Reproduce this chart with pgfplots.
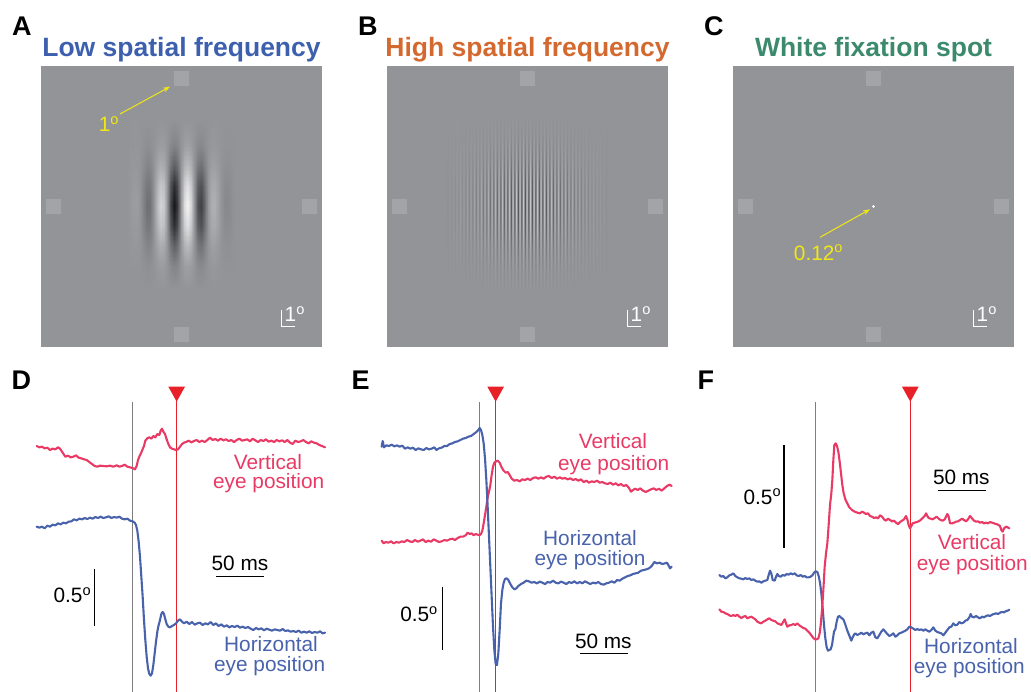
\documentclass[border=0pt]{standalone}
\usepackage{fontspec}
\setmainfont{Liberation Sans}
\usepackage{pgfplots}
\pgfplotsset{compat=1.18}
\usepgfplotslibrary{patchplots}
\usetikzlibrary{arrows.meta}

\definecolor{tblue}{RGB}{61,96,174}
\definecolor{torange}{RGB}{212,105,47}
\definecolor{tgreen}{RGB}{60,138,110}
\definecolor{tpink}{RGB}{232,58,100}
\definecolor{tblu}{RGB}{72,98,172}
\definecolor{tred}{RGB}{232,32,40}
\definecolor{tgray}{RGB}{125,125,125}
\definecolor{bg}{RGB}{147,148,152}
\definecolor{mk}{RGB}{163,164,167}
\definecolor{yel}{RGB}{240,232,20}

\newcommand\lab{\fontsize{20.8bp}{24bp}\selectfont}
\newcommand\ttl{\fontsize{26.5bp}{30bp}\selectfont\bfseries}
\newcommand\plet{\fontsize{27bp}{30bp}\selectfont\bfseries}

\pgfplotsset{
  toppanel/.style={scale only axis, width=281bp, height=281bp, hide axis, clip=false,
    xmin=-140.5, xmax=140.5, ymin=-140.5, ymax=140.5, anchor=north west},
  gaborpanel/.style={scale only axis, width=281bp, height=281bp, hide axis, view={0}{90},
    zmin=-1, zmax=1, anchor=north west, ymin=-140.5, ymax=140.5,
    colormap={gab}{rgb255(0cm)=(12,12,14); rgb255(1cm)=(147,148,152); rgb255(2cm)=(252,252,252)},
    point meta min=-1, point meta max=1},
  botpanel/.style={scale only axis, height=332bp, hide axis, clip=false,
    ymin=0, ymax=996, y dir=reverse, xmin=0, anchor=north west},
  trace/.style={line width=2.1bp, line join=round, line cap=round},
}

\begin{document}
\begin{tikzpicture}
\useasboundingbox (0,0) rectangle (1031bp,-692bp);

% ---------------- top row : stimulus backgrounds ----------------
\foreach \px in {41,387,733}{
\begin{axis}[toppanel, at={(\px bp,-66bp)}]
  \addplot[fill=bg, draw=none] coordinates {(-140.5,-140.5) (140.5,-140.5) (140.5,140.5) (-140.5,140.5)} --cycle;
\end{axis}
}

% Gabor A: x in eighth periods (3.375 px), y in px
\begin{axis}[gaborpanel, at={(41bp,-66bp)}, xmin=-41.6296, xmax=41.6296]
\addplot3[surf, shader=interp, patch type=bilinear, mesh/cols=33, point meta=z] coordinates {
(-16,-85,0) (-15,-85,0) (-14,-85,0) (-13,-85,0) (-12,-85,0) (-11,-85,0) (-10,-85,0) (-9,-85,0) (-8,-85,0) (-7,-85,0) (-6,-85,0) (-5,-85,0) (-4,-85,0) (-3,-85,0) (-2,-85,0) (-1,-85,0) (0,-85,0) (1,-85,0) (2,-85,0) (3,-85,0) (4,-85,0) (5,-85,0) (6,-85,0) (7,-85,0) (8,-85,0) (9,-85,0) (10,-85,0) (11,-85,0) (12,-85,0) (13,-85,0) (14,-85,0) (15,-85,0) (16,-85,0)
(-16,-60,0) (-15,-60,0.01) (-14,-60,0.01) (-13,-60,0.01) (-12,-60,0) (-11,-60,-0.02) (-10,-60,-0.04) (-9,-60,-0.03) (-8,-60,0) (-7,-60,0.05) (-6,-60,0.08) (-5,-60,0.07) (-4,-60,0) (-3,-60,-0.08) (-2,-60,-0.12) (-1,-60,-0.09) (0,-60,0) (1,-60,0.09) (2,-60,0.12) (3,-60,0.08) (4,-60,0) (5,-60,-0.07) (6,-60,-0.08) (7,-60,-0.05) (8,-60,0) (9,-60,0.03) (10,-60,0.04) (11,-60,0.02) (12,-60,0) (13,-60,-0.01) (14,-60,-0.01) (15,-60,-0.01) (16,-60,0)
(-16,-40,0) (-15,-40,0.02) (-14,-40,0.03) (-13,-40,0.03) (-12,-40,0) (-11,-40,-0.06) (-10,-40,-0.11) (-9,-40,-0.10) (-8,-40,0) (-7,-40,0.15) (-6,-40,0.25) (-5,-40,0.20) (-4,-40,0) (-3,-40,-0.25) (-2,-40,-0.38) (-1,-40,-0.28) (0,-40,0) (1,-40,0.28) (2,-40,0.38) (3,-40,0.25) (4,-40,0) (5,-40,-0.20) (6,-40,-0.25) (7,-40,-0.15) (8,-40,0) (9,-40,0.10) (10,-40,0.11) (11,-40,0.06) (12,-40,0) (13,-40,-0.03) (14,-40,-0.03) (15,-40,-0.02) (16,-40,0)
(-16,-20,0) (-15,-20,0.03) (-14,-20,0.06) (-13,-20,0.06) (-12,-20,0) (-11,-20,-0.12) (-10,-20,-0.21) (-9,-20,-0.19) (-8,-20,0) (-7,-20,0.29) (-6,-20,0.49) (-5,-20,0.40) (-4,-20,0) (-3,-20,-0.49) (-2,-20,-0.74) (-1,-20,-0.54) (0,-20,0) (1,-20,0.54) (2,-20,0.74) (3,-20,0.49) (4,-20,0) (5,-20,-0.40) (6,-20,-0.49) (7,-20,-0.29) (8,-20,0) (9,-20,0.19) (10,-20,0.21) (11,-20,0.12) (12,-20,0) (13,-20,-0.06) (14,-20,-0.06) (15,-20,-0.03) (16,-20,0)
(-16,0,0) (-15,0,0.04) (-14,0,0.08) (-13,0,0.08) (-12,0,0) (-11,0,-0.14) (-10,0,-0.27) (-9,0,-0.24) (-8,0,0) (-7,0,0.36) (-6,0,0.61) (-5,0,0.50) (-4,0,0) (-3,0,-0.61) (-2,0,-0.92) (-1,0,-0.68) (0,0,0) (1,0,0.68) (2,0,0.92) (3,0,0.61) (4,0,0) (5,0,-0.50) (6,0,-0.61) (7,0,-0.36) (8,0,0) (9,0,0.24) (10,0,0.27) (11,0,0.14) (12,0,0) (13,0,-0.08) (14,0,-0.08) (15,0,-0.04) (16,0,0)
(-16,20,0) (-15,20,0.03) (-14,20,0.06) (-13,20,0.06) (-12,20,0) (-11,20,-0.12) (-10,20,-0.21) (-9,20,-0.19) (-8,20,0) (-7,20,0.29) (-6,20,0.49) (-5,20,0.40) (-4,20,0) (-3,20,-0.49) (-2,20,-0.74) (-1,20,-0.54) (0,20,0) (1,20,0.54) (2,20,0.74) (3,20,0.49) (4,20,0) (5,20,-0.40) (6,20,-0.49) (7,20,-0.29) (8,20,0) (9,20,0.19) (10,20,0.21) (11,20,0.12) (12,20,0) (13,20,-0.06) (14,20,-0.06) (15,20,-0.03) (16,20,0)
(-16,40,0) (-15,40,0.02) (-14,40,0.03) (-13,40,0.03) (-12,40,0) (-11,40,-0.06) (-10,40,-0.11) (-9,40,-0.10) (-8,40,0) (-7,40,0.15) (-6,40,0.25) (-5,40,0.20) (-4,40,0) (-3,40,-0.25) (-2,40,-0.38) (-1,40,-0.28) (0,40,0) (1,40,0.28) (2,40,0.38) (3,40,0.25) (4,40,0) (5,40,-0.20) (6,40,-0.25) (7,40,-0.15) (8,40,0) (9,40,0.10) (10,40,0.11) (11,40,0.06) (12,40,0) (13,40,-0.03) (14,40,-0.03) (15,40,-0.02) (16,40,0)
(-16,60,0) (-15,60,0.01) (-14,60,0.01) (-13,60,0.01) (-12,60,0) (-11,60,-0.02) (-10,60,-0.04) (-9,60,-0.03) (-8,60,0) (-7,60,0.05) (-6,60,0.08) (-5,60,0.07) (-4,60,0) (-3,60,-0.08) (-2,60,-0.12) (-1,60,-0.09) (0,60,0) (1,60,0.09) (2,60,0.12) (3,60,0.08) (4,60,0) (5,60,-0.07) (6,60,-0.08) (7,60,-0.05) (8,60,0) (9,60,0.03) (10,60,0.04) (11,60,0.02) (12,60,0) (13,60,-0.01) (14,60,-0.01) (15,60,-0.01) (16,60,0)
(-16,85,0) (-15,85,0) (-14,85,0) (-13,85,0) (-12,85,0) (-11,85,0) (-10,85,0) (-9,85,0) (-8,85,0) (-7,85,0) (-6,85,0) (-5,85,0) (-4,85,0) (-3,85,0) (-2,85,0) (-1,85,0) (0,85,0) (1,85,0) (2,85,0) (3,85,0) (4,85,0) (5,85,0) (6,85,0) (7,85,0) (8,85,0) (9,85,0) (10,85,0) (11,85,0) (12,85,0) (13,85,0) (14,85,0) (15,85,0) (16,85,0)
};
\end{axis}

% Gabor B: x in half periods (1.75 px), y in px
\begin{axis}[gaborpanel, at={(387bp,-66bp)}, xmin=-80.2857, xmax=80.2857]
\addplot3[surf, shader=interp, patch type=bilinear, mesh/cols=93, point meta=z] coordinates {
(-46,-88,0) (-45,-88,0) (-44,-88,0) (-43,-88,0) (-42,-88,0) (-41,-88,0) (-40,-88,0) (-39,-88,0) (-38,-88,0) (-37,-88,0) (-36,-88,0) (-35,-88,0) (-34,-88,0) (-33,-88,0) (-32,-88,0) (-31,-88,0) (-30,-88,0) (-29,-88,0) (-28,-88,0) (-27,-88,0) (-26,-88,0) (-25,-88,0) (-24,-88,0) (-23,-88,0) (-22,-88,0) (-21,-88,0) (-20,-88,0) (-19,-88,0) (-18,-88,0) (-17,-88,0) (-16,-88,0) (-15,-88,0) (-14,-88,0) (-13,-88,0) (-12,-88,0) (-11,-88,0) (-10,-88,0) (-9,-88,0) (-8,-88,0) (-7,-88,0) (-6,-88,0) (-5,-88,0) (-4,-88,0) (-3,-88,0) (-2,-88,0) (-1,-88,0) (0,-88,0) (1,-88,0) (2,-88,0) (3,-88,0) (4,-88,0) (5,-88,0) (6,-88,0) (7,-88,0) (8,-88,0) (9,-88,0) (10,-88,0) (11,-88,0) (12,-88,0) (13,-88,0) (14,-88,0) (15,-88,0) (16,-88,0) (17,-88,0) (18,-88,0) (19,-88,0) (20,-88,0) (21,-88,0) (22,-88,0) (23,-88,0) (24,-88,0) (25,-88,0) (26,-88,0) (27,-88,0) (28,-88,0) (29,-88,0) (30,-88,0) (31,-88,0) (32,-88,0) (33,-88,0) (34,-88,0) (35,-88,0) (36,-88,0) (37,-88,0) (38,-88,0) (39,-88,0) (40,-88,0) (41,-88,0) (42,-88,0) (43,-88,0) (44,-88,0) (45,-88,0) (46,-88,0)
(-46,-66,0) (-45,-66,-0.01) (-44,-66,0.01) (-43,-66,-0.01) (-42,-66,0.01) (-41,-66,-0.01) (-40,-66,0.01) (-39,-66,-0.01) (-38,-66,0.01) (-37,-66,-0.01) (-36,-66,0.01) (-35,-66,-0.02) (-34,-66,0.02) (-33,-66,-0.02) (-32,-66,0.02) (-31,-66,-0.02) (-30,-66,0.02) (-29,-66,-0.03) (-28,-66,0.03) (-27,-66,-0.03) (-26,-66,0.03) (-25,-66,-0.04) (-24,-66,0.04) (-23,-66,-0.04) (-22,-66,0.04) (-21,-66,-0.05) (-20,-66,0.05) (-19,-66,-0.05) (-18,-66,0.06) (-17,-66,-0.06) (-16,-66,0.06) (-15,-66,-0.06) (-14,-66,0.07) (-13,-66,-0.07) (-12,-66,0.07) (-11,-66,-0.07) (-10,-66,0.08) (-9,-66,-0.08) (-8,-66,0.08) (-7,-66,-0.08) (-6,-66,0.08) (-5,-66,-0.09) (-4,-66,0.09) (-3,-66,-0.09) (-2,-66,0.09) (-1,-66,-0.09) (0,-66,0.09) (1,-66,-0.09) (2,-66,0.09) (3,-66,-0.09) (4,-66,0.09) (5,-66,-0.09) (6,-66,0.08) (7,-66,-0.08) (8,-66,0.08) (9,-66,-0.08) (10,-66,0.08) (11,-66,-0.07) (12,-66,0.07) (13,-66,-0.07) (14,-66,0.07) (15,-66,-0.06) (16,-66,0.06) (17,-66,-0.06) (18,-66,0.06) (19,-66,-0.05) (20,-66,0.05) (21,-66,-0.05) (22,-66,0.04) (23,-66,-0.04) (24,-66,0.04) (25,-66,-0.04) (26,-66,0.03) (27,-66,-0.03) (28,-66,0.03) (29,-66,-0.03) (30,-66,0.02) (31,-66,-0.02) (32,-66,0.02) (33,-66,-0.02) (34,-66,0.02) (35,-66,-0.02) (36,-66,0.01) (37,-66,-0.01) (38,-66,0.01) (39,-66,-0.01) (40,-66,0.01) (41,-66,-0.01) (42,-66,0.01) (43,-66,-0.01) (44,-66,0.01) (45,-66,-0.01) (46,-66,0)
(-46,-44,0) (-45,-44,-0.02) (-44,-44,0.02) (-43,-44,-0.02) (-42,-44,0.02) (-41,-44,-0.02) (-40,-44,0.03) (-39,-44,-0.03) (-38,-44,0.04) (-37,-44,-0.04) (-36,-44,0.04) (-35,-44,-0.05) (-34,-44,0.05) (-33,-44,-0.06) (-32,-44,0.06) (-31,-44,-0.07) (-30,-44,0.07) (-29,-44,-0.08) (-28,-44,0.09) (-27,-44,-0.09) (-26,-44,0.10) (-25,-44,-0.11) (-24,-44,0.12) (-23,-44,-0.13) (-22,-44,0.14) (-21,-44,-0.14) (-20,-44,0.15) (-19,-44,-0.16) (-18,-44,0.17) (-17,-44,-0.18) (-16,-44,0.18) (-15,-44,-0.19) (-14,-44,0.20) (-13,-44,-0.21) (-12,-44,0.22) (-11,-44,-0.23) (-10,-44,0.23) (-9,-44,-0.24) (-8,-44,0.24) (-7,-44,-0.25) (-6,-44,0.25) (-5,-44,-0.26) (-4,-44,0.26) (-3,-44,-0.26) (-2,-44,0.27) (-1,-44,-0.27) (0,-44,0.27) (1,-44,-0.27) (2,-44,0.27) (3,-44,-0.26) (4,-44,0.26) (5,-44,-0.26) (6,-44,0.25) (7,-44,-0.25) (8,-44,0.24) (9,-44,-0.24) (10,-44,0.23) (11,-44,-0.23) (12,-44,0.22) (13,-44,-0.21) (14,-44,0.20) (15,-44,-0.19) (16,-44,0.18) (17,-44,-0.18) (18,-44,0.17) (19,-44,-0.16) (20,-44,0.15) (21,-44,-0.14) (22,-44,0.14) (23,-44,-0.13) (24,-44,0.12) (25,-44,-0.11) (26,-44,0.10) (27,-44,-0.09) (28,-44,0.09) (29,-44,-0.08) (30,-44,0.07) (31,-44,-0.07) (32,-44,0.06) (33,-44,-0.06) (34,-44,0.05) (35,-44,-0.05) (36,-44,0.04) (37,-44,-0.04) (38,-44,0.04) (39,-44,-0.03) (40,-44,0.03) (41,-44,-0.02) (42,-44,0.02) (43,-44,-0.02) (44,-44,0.02) (45,-44,-0.02) (46,-44,0)
(-46,-22,0) (-45,-22,-0.03) (-44,-22,0.03) (-43,-22,-0.04) (-42,-22,0.04) (-41,-22,-0.05) (-40,-22,0.06) (-39,-22,-0.06) (-38,-22,0.07) (-37,-22,-0.07) (-36,-22,0.08) (-35,-22,-0.10) (-34,-22,0.10) (-33,-22,-0.11) (-32,-22,0.12) (-31,-22,-0.14) (-30,-22,0.14) (-29,-22,-0.16) (-28,-22,0.18) (-27,-22,-0.18) (-26,-22,0.20) (-25,-22,-0.22) (-24,-22,0.23) (-23,-22,-0.25) (-22,-22,0.26) (-21,-22,-0.28) (-20,-22,0.30) (-19,-22,-0.31) (-18,-22,0.33) (-17,-22,-0.34) (-16,-22,0.36) (-15,-22,-0.38) (-14,-22,0.39) (-13,-22,-0.41) (-12,-22,0.42) (-11,-22,-0.44) (-10,-22,0.45) (-9,-22,-0.46) (-8,-22,0.47) (-7,-22,-0.48) (-6,-22,0.50) (-5,-22,-0.50) (-4,-22,0.51) (-3,-22,-0.51) (-2,-22,0.52) (-1,-22,-0.52) (0,-22,0.52) (1,-22,-0.52) (2,-22,0.52) (3,-22,-0.51) (4,-22,0.51) (5,-22,-0.50) (6,-22,0.50) (7,-22,-0.48) (8,-22,0.47) (9,-22,-0.46) (10,-22,0.45) (11,-22,-0.44) (12,-22,0.42) (13,-22,-0.41) (14,-22,0.39) (15,-22,-0.38) (16,-22,0.36) (17,-22,-0.34) (18,-22,0.33) (19,-22,-0.31) (20,-22,0.30) (21,-22,-0.28) (22,-22,0.26) (23,-22,-0.25) (24,-22,0.23) (25,-22,-0.22) (26,-22,0.20) (27,-22,-0.18) (28,-22,0.18) (29,-22,-0.16) (30,-22,0.14) (31,-22,-0.14) (32,-22,0.12) (33,-22,-0.11) (34,-22,0.10) (35,-22,-0.10) (36,-22,0.08) (37,-22,-0.07) (38,-22,0.07) (39,-22,-0.06) (40,-22,0.06) (41,-22,-0.05) (42,-22,0.04) (43,-22,-0.04) (44,-22,0.03) (45,-22,-0.03) (46,-22,0)
(-46,0,0) (-45,0,-0.04) (-44,0,0.04) (-43,0,-0.05) (-42,0,0.05) (-41,0,-0.06) (-40,0,0.07) (-39,0,-0.08) (-38,0,0.09) (-37,0,-0.09) (-36,0,0.10) (-35,0,-0.12) (-34,0,0.13) (-33,0,-0.14) (-32,0,0.15) (-31,0,-0.17) (-30,0,0.18) (-29,0,-0.20) (-28,0,0.22) (-27,0,-0.23) (-26,0,0.25) (-25,0,-0.27) (-24,0,0.29) (-23,0,-0.31) (-22,0,0.33) (-21,0,-0.35) (-20,0,0.37) (-19,0,-0.39) (-18,0,0.41) (-17,0,-0.43) (-16,0,0.45) (-15,0,-0.47) (-14,0,0.49) (-13,0,-0.51) (-12,0,0.53) (-11,0,-0.55) (-10,0,0.56) (-9,0,-0.58) (-8,0,0.59) (-7,0,-0.60) (-6,0,0.62) (-5,0,-0.63) (-4,0,0.64) (-3,0,-0.64) (-2,0,0.65) (-1,0,-0.65) (0,0,0.65) (1,0,-0.65) (2,0,0.65) (3,0,-0.64) (4,0,0.64) (5,0,-0.63) (6,0,0.62) (7,0,-0.60) (8,0,0.59) (9,0,-0.58) (10,0,0.56) (11,0,-0.55) (12,0,0.53) (13,0,-0.51) (14,0,0.49) (15,0,-0.47) (16,0,0.45) (17,0,-0.43) (18,0,0.41) (19,0,-0.39) (20,0,0.37) (21,0,-0.35) (22,0,0.33) (23,0,-0.31) (24,0,0.29) (25,0,-0.27) (26,0,0.25) (27,0,-0.23) (28,0,0.22) (29,0,-0.20) (30,0,0.18) (31,0,-0.17) (32,0,0.15) (33,0,-0.14) (34,0,0.13) (35,0,-0.12) (36,0,0.10) (37,0,-0.09) (38,0,0.09) (39,0,-0.08) (40,0,0.07) (41,0,-0.06) (42,0,0.05) (43,0,-0.05) (44,0,0.04) (45,0,-0.04) (46,0,0)
(-46,22,0) (-45,22,-0.03) (-44,22,0.03) (-43,22,-0.04) (-42,22,0.04) (-41,22,-0.05) (-40,22,0.06) (-39,22,-0.06) (-38,22,0.07) (-37,22,-0.07) (-36,22,0.08) (-35,22,-0.10) (-34,22,0.10) (-33,22,-0.11) (-32,22,0.12) (-31,22,-0.14) (-30,22,0.14) (-29,22,-0.16) (-28,22,0.18) (-27,22,-0.18) (-26,22,0.20) (-25,22,-0.22) (-24,22,0.23) (-23,22,-0.25) (-22,22,0.26) (-21,22,-0.28) (-20,22,0.30) (-19,22,-0.31) (-18,22,0.33) (-17,22,-0.34) (-16,22,0.36) (-15,22,-0.38) (-14,22,0.39) (-13,22,-0.41) (-12,22,0.42) (-11,22,-0.44) (-10,22,0.45) (-9,22,-0.46) (-8,22,0.47) (-7,22,-0.48) (-6,22,0.50) (-5,22,-0.50) (-4,22,0.51) (-3,22,-0.51) (-2,22,0.52) (-1,22,-0.52) (0,22,0.52) (1,22,-0.52) (2,22,0.52) (3,22,-0.51) (4,22,0.51) (5,22,-0.50) (6,22,0.50) (7,22,-0.48) (8,22,0.47) (9,22,-0.46) (10,22,0.45) (11,22,-0.44) (12,22,0.42) (13,22,-0.41) (14,22,0.39) (15,22,-0.38) (16,22,0.36) (17,22,-0.34) (18,22,0.33) (19,22,-0.31) (20,22,0.30) (21,22,-0.28) (22,22,0.26) (23,22,-0.25) (24,22,0.23) (25,22,-0.22) (26,22,0.20) (27,22,-0.18) (28,22,0.18) (29,22,-0.16) (30,22,0.14) (31,22,-0.14) (32,22,0.12) (33,22,-0.11) (34,22,0.10) (35,22,-0.10) (36,22,0.08) (37,22,-0.07) (38,22,0.07) (39,22,-0.06) (40,22,0.06) (41,22,-0.05) (42,22,0.04) (43,22,-0.04) (44,22,0.03) (45,22,-0.03) (46,22,0)
(-46,44,0) (-45,44,-0.02) (-44,44,0.02) (-43,44,-0.02) (-42,44,0.02) (-41,44,-0.02) (-40,44,0.03) (-39,44,-0.03) (-38,44,0.04) (-37,44,-0.04) (-36,44,0.04) (-35,44,-0.05) (-34,44,0.05) (-33,44,-0.06) (-32,44,0.06) (-31,44,-0.07) (-30,44,0.07) (-29,44,-0.08) (-28,44,0.09) (-27,44,-0.09) (-26,44,0.10) (-25,44,-0.11) (-24,44,0.12) (-23,44,-0.13) (-22,44,0.14) (-21,44,-0.14) (-20,44,0.15) (-19,44,-0.16) (-18,44,0.17) (-17,44,-0.18) (-16,44,0.18) (-15,44,-0.19) (-14,44,0.20) (-13,44,-0.21) (-12,44,0.22) (-11,44,-0.23) (-10,44,0.23) (-9,44,-0.24) (-8,44,0.24) (-7,44,-0.25) (-6,44,0.25) (-5,44,-0.26) (-4,44,0.26) (-3,44,-0.26) (-2,44,0.27) (-1,44,-0.27) (0,44,0.27) (1,44,-0.27) (2,44,0.27) (3,44,-0.26) (4,44,0.26) (5,44,-0.26) (6,44,0.25) (7,44,-0.25) (8,44,0.24) (9,44,-0.24) (10,44,0.23) (11,44,-0.23) (12,44,0.22) (13,44,-0.21) (14,44,0.20) (15,44,-0.19) (16,44,0.18) (17,44,-0.18) (18,44,0.17) (19,44,-0.16) (20,44,0.15) (21,44,-0.14) (22,44,0.14) (23,44,-0.13) (24,44,0.12) (25,44,-0.11) (26,44,0.10) (27,44,-0.09) (28,44,0.09) (29,44,-0.08) (30,44,0.07) (31,44,-0.07) (32,44,0.06) (33,44,-0.06) (34,44,0.05) (35,44,-0.05) (36,44,0.04) (37,44,-0.04) (38,44,0.04) (39,44,-0.03) (40,44,0.03) (41,44,-0.02) (42,44,0.02) (43,44,-0.02) (44,44,0.02) (45,44,-0.02) (46,44,0)
(-46,66,0) (-45,66,-0.01) (-44,66,0.01) (-43,66,-0.01) (-42,66,0.01) (-41,66,-0.01) (-40,66,0.01) (-39,66,-0.01) (-38,66,0.01) (-37,66,-0.01) (-36,66,0.01) (-35,66,-0.02) (-34,66,0.02) (-33,66,-0.02) (-32,66,0.02) (-31,66,-0.02) (-30,66,0.02) (-29,66,-0.03) (-28,66,0.03) (-27,66,-0.03) (-26,66,0.03) (-25,66,-0.04) (-24,66,0.04) (-23,66,-0.04) (-22,66,0.04) (-21,66,-0.05) (-20,66,0.05) (-19,66,-0.05) (-18,66,0.06) (-17,66,-0.06) (-16,66,0.06) (-15,66,-0.06) (-14,66,0.07) (-13,66,-0.07) (-12,66,0.07) (-11,66,-0.07) (-10,66,0.08) (-9,66,-0.08) (-8,66,0.08) (-7,66,-0.08) (-6,66,0.08) (-5,66,-0.09) (-4,66,0.09) (-3,66,-0.09) (-2,66,0.09) (-1,66,-0.09) (0,66,0.09) (1,66,-0.09) (2,66,0.09) (3,66,-0.09) (4,66,0.09) (5,66,-0.09) (6,66,0.08) (7,66,-0.08) (8,66,0.08) (9,66,-0.08) (10,66,0.08) (11,66,-0.07) (12,66,0.07) (13,66,-0.07) (14,66,0.07) (15,66,-0.06) (16,66,0.06) (17,66,-0.06) (18,66,0.06) (19,66,-0.05) (20,66,0.05) (21,66,-0.05) (22,66,0.04) (23,66,-0.04) (24,66,0.04) (25,66,-0.04) (26,66,0.03) (27,66,-0.03) (28,66,0.03) (29,66,-0.03) (30,66,0.02) (31,66,-0.02) (32,66,0.02) (33,66,-0.02) (34,66,0.02) (35,66,-0.02) (36,66,0.01) (37,66,-0.01) (38,66,0.01) (39,66,-0.01) (40,66,0.01) (41,66,-0.01) (42,66,0.01) (43,66,-0.01) (44,66,0.01) (45,66,-0.01) (46,66,0)
(-46,88,0) (-45,88,0) (-44,88,0) (-43,88,0) (-42,88,0) (-41,88,0) (-40,88,0) (-39,88,0) (-38,88,0) (-37,88,0) (-36,88,0) (-35,88,0) (-34,88,0) (-33,88,0) (-32,88,0) (-31,88,0) (-30,88,0) (-29,88,0) (-28,88,0) (-27,88,0) (-26,88,0) (-25,88,0) (-24,88,0) (-23,88,0) (-22,88,0) (-21,88,0) (-20,88,0) (-19,88,0) (-18,88,0) (-17,88,0) (-16,88,0) (-15,88,0) (-14,88,0) (-13,88,0) (-12,88,0) (-11,88,0) (-10,88,0) (-9,88,0) (-8,88,0) (-7,88,0) (-6,88,0) (-5,88,0) (-4,88,0) (-3,88,0) (-2,88,0) (-1,88,0) (0,88,0) (1,88,0) (2,88,0) (3,88,0) (4,88,0) (5,88,0) (6,88,0) (7,88,0) (8,88,0) (9,88,0) (10,88,0) (11,88,0) (12,88,0) (13,88,0) (14,88,0) (15,88,0) (16,88,0) (17,88,0) (18,88,0) (19,88,0) (20,88,0) (21,88,0) (22,88,0) (23,88,0) (24,88,0) (25,88,0) (26,88,0) (27,88,0) (28,88,0) (29,88,0) (30,88,0) (31,88,0) (32,88,0) (33,88,0) (34,88,0) (35,88,0) (36,88,0) (37,88,0) (38,88,0) (39,88,0) (40,88,0) (41,88,0) (42,88,0) (43,88,0) (44,88,0) (45,88,0) (46,88,0)
};
\end{axis}

% markers, scale bars, titles, letters
\foreach \px/\ttext/\tcol/\tlet in {41/Low spatial frequency/tblue/A, 387/High spatial frequency/torange/B, 733/White fixation spot/tgreen/C}{
\begin{axis}[toppanel, at={(\px bp,-66bp)}]
  \addplot[only marks, mark=square*, mark size=7bp, color=mk]
    coordinates {(0,128) (-128,0) (128,0) (0,-128)};
  \addplot[white, line width=1bp] coordinates {(100,-103.5) (100,-120.2) (113.5,-120.2)};
  \node[white, anchor=base west, inner sep=0pt, font=\lab] at (axis cs:103,-115.2) {1\textsuperscript{o}};
  \node[anchor=base, inner sep=0pt, font=\ttl, text=\tcol] at (axis cs:0,149.8) {\ttext};
  \node[anchor=base west, inner sep=0pt, font=\plet] at (axis cs:-169.5,171.5) {\tlet};
\end{axis}
}

% annotations A
\begin{axis}[toppanel, at={(41bp,-66bp)}]
  \addplot[yel, line width=1bp, -{Stealth[length=7bp,width=5bp]}] coordinates {(-61.5,92.5) (-11.5,119.8)};
  \node[anchor=base, inner sep=0pt, font=\lab, text=yel] at (axis cs:-72.5,74.8) {1\textsuperscript{o}};
\end{axis}
% annotations C
\begin{axis}[toppanel, at={(733bp,-66bp)}]
  \addplot[yel, line width=1bp, -{Stealth[length=7bp,width=5bp]}] coordinates {(-53.5,-30.8) (-3.5,-2.8)};
  \addplot[only marks, mark=*, mark size=1.1bp, color=white] coordinates {(0,0)};
  \node[anchor=base, inner sep=0pt, font=\lab, text=yel] at (axis cs:-55,-53.5) {0.12\textsuperscript{o}};
\end{axis}

% ---------------- bottom row : eye traces (units: 1/3 px) ----------------
% D
\begin{axis}[botpanel, at={(0bp,-360bp)}, width=345bp, xmax=1035]
  \addplot[tgray, line width=1.2bp] coordinates {(398,125) (398,996)};
  \addplot[tred, line width=1.2bp] coordinates {(530,115) (530,996)};
  \addplot[fill=tred, draw=none] coordinates {(505,80) (555,80) (530,125)} --cycle;
  \addplot[tpink, trace] coordinates {
(110,258)(118,262)(126,260)(134,265)(142,263)(150,270)(158,266)(166,268)(174,262)(180,266)(188,278)(196,290)(204,287)(212,292)(220,290)(228,286)(236,293)(244,295)(252,298)(260,300)(268,306)(276,312)(284,318)(292,320)(300,317)(310,318)(320,319)(330,317)(340,320)(350,316)(358,320)(366,318)(374,314)(382,320)(390,322)(398,324)(405,328)(410,318)(414,300)(418,290)(422,282)(427,270)(432,258)(436,242)(442,235)(448,232)(454,236)(460,228)(466,232)(472,222)(478,225)(482,212)(486,206)(490,215)(495,222)(500,238)(505,252)(510,262)(516,266)(522,268)(528,270)(534,268)(540,260)(546,252)(552,248)(558,246)(566,242)(574,247)(582,243)(590,240)(598,246)(606,242)(614,246)(622,240)(630,233)(638,240)(646,237)(654,242)(662,236)(670,241)(678,238)(686,243)(694,240)(702,246)(710,240)(718,236)(726,242)(734,240)(742,238)(750,244)(758,236)(766,241)(774,246)(782,240)(790,243)(798,238)(806,245)(814,242)(822,246)(830,240)(838,244)(846,241)(854,246)(862,240)(870,248)(878,252)(886,242)(894,246)(902,244)(910,240)(918,246)(926,250)(934,244)(942,248)(950,250)(958,255)(966,258)(975,262)};
  \addplot[tblu, trace] coordinates {
(110,500)(118,503)(126,500)(134,505)(142,497)(150,500)(158,494)(166,496)(174,490)(182,493)(190,488)(198,490)(206,485)(214,484)(222,478)(230,481)(238,476)(246,478)(254,474)(262,477)(270,473)(278,476)(286,471)(294,474)(302,470)(310,474)(318,472)(326,469)(334,474)(342,471)(350,473)(358,470)(366,476)(374,478)(382,476)(390,482)(398,484)(404,488)(408,495)(412,512)(416,545)(420,590)(424,650)(428,710)(432,780)(436,840)(440,890)(444,925)(448,942)(452,947)(456,940)(460,915)(464,880)(468,845)(472,815)(476,795)(480,780)(484,762)(488,756)(492,762)(496,778)(500,792)(505,800)(510,802)(516,798)(522,795)(528,790)(534,782)(540,778)(546,785)(552,790)(560,785)(568,792)(576,786)(584,794)(592,790)(600,788)(608,795)(616,790)(624,793)(632,786)(640,795)(648,790)(656,798)(664,793)(672,800)(680,796)(688,802)(696,798)(704,801)(712,797)(720,803)(728,800)(736,804)(744,801)(752,806)(760,810)(768,804)(776,808)(784,805)(792,811)(800,806)(808,809)(816,812)(824,808)(832,810)(840,812)(848,807)(856,813)(864,811)(872,815)(880,813)(888,816)(896,812)(904,818)(912,815)(920,818)(928,814)(936,819)(944,816)(952,818)(960,814)(968,820)(975,818)};
  \addplot[black, line width=1.2bp] coordinates {(283,628) (283,798)};
  \addplot[black, line width=1.2bp] coordinates {(648,650) (793,650)};
  \node[anchor=base, inner sep=0pt, font=\lab] at (axis cs:720,632) {50 ms};
  \node[anchor=base east, inner sep=0pt, font=\lab] at (axis cs:274,728) {0.5\textsuperscript{o}};
  \node[anchor=base, inner sep=0pt, font=\lab, text=tpink] at (axis cs:804,328) {Vertical};
  \node[anchor=base, inner sep=0pt, font=\lab, text=tpink] at (axis cs:806,385) {eye position};
  \node[anchor=base, inner sep=0pt, font=\lab, text=tblu] at (axis cs:813,875) {Horizontal};
  \node[anchor=base, inner sep=0pt, font=\lab, text=tblu] at (axis cs:809,935) {eye position};
  \node[anchor=base west, inner sep=0pt, font=\plet] at (axis cs:34,88) {D};
\end{axis}

% E
\begin{axis}[botpanel, at={(345bp,-360bp)}, width=345bp, xmax=1035]
  \addplot[tgray, line width=1.2bp] coordinates {(403,125) (403,996)};
  \addplot[tred, line width=1.2bp] coordinates {(452,115) (452,996)};
  \addplot[fill=tred, draw=none] coordinates {(427,80) (477,80) (452,125)} --cycle;
  \addplot[tpink, trace] coordinates {
(110,542)(116,550)(122,546)(130,548)(138,544)(146,550)(154,546)(162,548)(170,544)(178,546)(186,540)(194,544)(202,546)(210,540)(218,545)(226,542)(234,538)(242,546)(250,542)(258,545)(266,538)(274,542)(282,546)(290,544)(298,540)(306,542)(314,538)(322,536)(330,540)(338,534)(346,530)(354,530)(362,526)(368,518)(374,522)(380,520)(386,526)(392,522)(398,524)(404,526)(408,522)(412,512)(416,490)(420,465)(424,440)(428,412)(432,395)(436,375)(440,345)(444,320)(448,308)(452,305)(458,302)(464,308)(470,322)(476,332)(482,338)(488,336)(494,345)(500,356)(508,362)(516,360)(524,364)(532,358)(540,360)(548,356)(556,360)(564,354)(572,352)(580,356)(588,352)(596,356)(604,350)(612,348)(620,354)(628,350)(636,356)(644,352)(652,356)(660,354)(668,358)(676,355)(684,360)(692,357)(700,362)(708,358)(716,366)(724,362)(732,368)(740,364)(748,366)(756,362)(764,368)(772,366)(780,370)(788,372)(796,368)(804,374)(812,370)(820,376)(828,372)(836,378)(844,375)(852,384)(858,395)(864,390)(870,386)(878,390)(886,385)(894,392)(902,396)(910,392)(918,388)(926,385)(934,390)(942,386)(950,392)(958,385)(966,378)(974,374)(980,378)};
  \addplot[tblu, trace] coordinates {
(110,260)(113,243)(117,262)(124,256)(132,258)(140,254)(148,259)(156,256)(164,260)(172,257)(180,266)(188,262)(196,266)(204,263)(212,270)(220,265)(228,268)(236,270)(244,264)(252,268)(260,266)(268,262)(274,270)(282,265)(290,263)(298,258)(306,258)(314,252)(322,250)(330,246)(338,244)(346,240)(354,236)(362,234)(370,230)(378,228)(386,222)(394,216)(400,210)(404,204)(408,210)(412,225)(416,250)(420,295)(424,360)(428,440)(432,530)(436,620)(440,710)(444,800)(448,870)(452,912)(456,915)(460,880)(464,810)(468,730)(472,690)(476,668)(480,657)(485,655)(490,660)(496,672)(502,682)(508,688)(514,685)(520,678)(528,672)(536,668)(544,662)(552,664)(560,668)(568,666)(576,670)(584,665)(592,668)(600,672)(608,666)(616,668)(624,662)(632,668)(640,670)(648,665)(656,668)(664,672)(672,666)(680,669)(688,664)(696,670)(704,666)(712,670)(720,664)(728,668)(736,672)(744,668)(752,670)(760,666)(768,672)(776,674)(784,670)(792,668)(800,664)(808,668)(816,660)(824,662)(832,656)(840,652)(848,648)(856,646)(864,642)(872,640)(880,638)(888,632)(896,630)(904,628)(912,625)(920,618)(928,606)(936,610)(944,608)(952,612)(960,610)(966,608)(970,615)(975,625)(980,620)};
  \addplot[black, line width=1.2bp] coordinates {(292,680) (292,870)};
  \addplot[black, line width=1.2bp] coordinates {(705,880) (850,880)};
  \node[anchor=base, inner sep=0pt, font=\lab] at (axis cs:775,865) {50 ms};
  \node[anchor=base east, inner sep=0pt, font=\lab] at (axis cs:279,785) {0.5\textsuperscript{o}};
  \node[anchor=base, inner sep=0pt, font=\lab, text=tpink] at (axis cs:804,265) {Vertical};
  \node[anchor=base, inner sep=0pt, font=\lab, text=tpink] at (axis cs:806,330) {eye position};
  \node[anchor=base, inner sep=0pt, font=\lab, text=tblu] at (axis cs:735,555) {Horizontal};
  \node[anchor=base, inner sep=0pt, font=\lab, text=tblu] at (axis cs:735,617) {eye position};
  \node[anchor=base west, inner sep=0pt, font=\plet] at (axis cs:19,88) {E};
\end{axis}

% F
\begin{axis}[botpanel, at={(690bp,-360bp)}, width=341bp, xmax=1023]
  \addplot[tgray, line width=1.2bp] coordinates {(377,125) (377,996)};
  \addplot[tred, line width=1.2bp] coordinates {(661,115) (661,996)};
  \addplot[fill=tred, draw=none] coordinates {(636,80) (686,80) (661,125)} --cycle;
  \addplot[tblu, trace] coordinates {
(88,645)(94,650)(100,648)(106,655)(112,652)(118,646)(124,644)(130,640)(136,648)(142,652)(148,655)(154,656)(160,658)(166,654)(172,657)(178,655)(184,660)(190,658)(196,662)(202,665)(208,664)(214,668)(220,664)(226,662)(232,660)(236,645)(240,632)(244,640)(248,660)(254,662)(258,650)(262,642)(266,648)(272,650)(278,645)(284,647)(290,642)(296,644)(302,640)(308,643)(314,640)(320,646)(326,648)(332,645)(338,650)(344,648)(350,652)(356,652)(362,650)(368,645)(372,638)(377,634)(382,636)(386,648)(390,668)(394,700)(398,745)(402,795)(406,835)(410,862)(414,872)(418,870)(422,868)(426,855)(429,835)(432,815)(436,808)(440,785)(444,770)(448,768)(452,772)(456,775)(460,778)(464,788)(468,800)(472,812)(476,822)(480,832)(484,842)(488,832)(492,824)(496,820)(502,825)(508,822)(514,818)(520,823)(526,820)(532,818)(538,826)(544,818)(550,815)(556,832)(562,835)(568,825)(574,815)(580,808)(586,815)(592,822)(598,828)(604,825)(610,820)(616,830)(622,826)(628,820)(634,818)(640,815)(646,812)(652,808)(658,800)(664,802)(670,806)(676,810)(682,807)(688,810)(694,808)(700,812)(706,808)(712,812)(718,815)(724,810)(730,802)(736,812)(742,816)(748,818)(754,820)(760,826)(766,818)(772,810)(778,802)(784,800)(790,790)(796,796)(802,794)(808,786)(814,790)(820,788)(826,782)(832,780)(838,772)(842,762)(846,770)(852,772)(858,768)(864,772)(870,775)(876,770)(882,772)(888,768)(894,766)(900,768)(906,764)(912,762)(918,760)(924,762)(930,758)(936,756)(942,757)(948,753)(953,752)(958,749)};
  \addplot[tpink, trace] coordinates {
(88,748)(94,755)(100,756)(106,760)(112,762)(118,766)(124,768)(130,765)(136,768)(142,764)(148,770)(154,774)(160,770)(166,768)(172,775)(178,772)(184,770)(190,774)(196,778)(202,785)(208,788)(214,790)(220,785)(226,782)(232,778)(238,775)(244,780)(250,782)(256,784)(262,790)(268,792)(274,795)(280,785)(284,778)(288,790)(292,800)(298,796)(304,795)(310,792)(316,795)(322,790)(328,796)(334,800)(340,804)(346,806)(352,812)(358,818)(364,826)(370,834)(375,838)(380,838)(385,835)(389,820)(392,795)(396,750)(400,690)(404,620)(408,580)(412,550)(416,495)(420,435)(424,400)(427,360)(430,300)(433,255)(437,250)(441,258)(445,275)(449,305)(453,340)(457,375)(461,400)(466,418)(472,430)(478,442)(486,450)(494,455)(502,458)(510,460)(516,455)(522,458)(528,462)(534,460)(540,468)(546,470)(552,474)(558,472)(564,475)(570,466)(576,470)(582,478)(588,482)(594,476)(600,480)(606,484)(612,482)(618,488)(624,492)(630,486)(636,482)(642,478)(648,468)(652,478)(656,495)(660,505)(664,498)(668,490)(674,488)(680,486)(686,484)(692,480)(698,474)(704,468)(708,460)(712,468)(716,474)(722,476)(728,478)(734,474)(740,470)(746,476)(752,480)(758,482)(764,478)(768,470)(772,462)(776,470)(780,490)(786,490)(792,488)(798,485)(804,484)(810,480)(816,476)(822,480)(828,484)(834,478)(840,468)(846,475)(852,482)(858,485)(864,484)(870,488)(876,486)(882,490)(888,488)(894,490)(900,486)(906,488)(912,490)(918,492)(924,494)(930,498)(934,510)(938,515)(942,505)(948,500)(953,502)(958,505)};
  \addplot[black, line width=1.2bp] coordinates {(282,255) (282,565)};
  \addplot[black, line width=1.2bp] coordinates {(745,392) (888,392)};
  \node[anchor=base, inner sep=0pt, font=\lab] at (axis cs:814,372) {50 ms};
  \node[anchor=base east, inner sep=0pt, font=\lab] at (axis cs:274,432) {0.5\textsuperscript{o}};
  \node[anchor=base, inner sep=0pt, font=\lab, text=tpink] at (axis cs:846,567) {Vertical};
  \node[anchor=base, inner sep=0pt, font=\lab, text=tpink] at (axis cs:847,632) {eye position};
  \node[anchor=base, inner sep=0pt, font=\lab, text=tblu] at (axis cs:843,880) {Horizontal};
  \node[anchor=base, inner sep=0pt, font=\lab, text=tblu] at (axis cs:838,940) {eye position};
  \node[anchor=base west, inner sep=0pt, font=\plet] at (axis cs:22,88) {F};
\end{axis}
\end{tikzpicture}
\end{document}
